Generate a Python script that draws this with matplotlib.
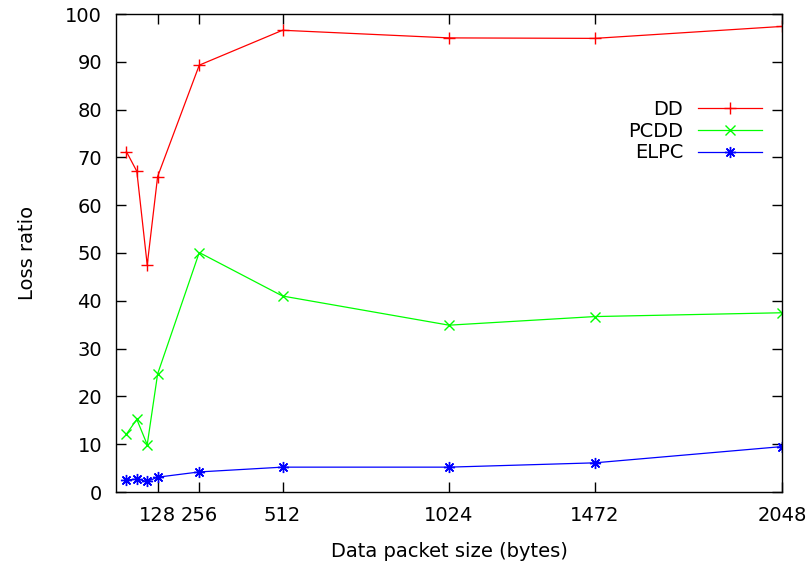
import matplotlib
matplotlib.use("Agg")
import matplotlib.pyplot as plt

plt.rcParams['font.family'] = ['DejaVu Sans']

sizes = [32, 64, 96, 128, 256, 512, 1024, 1472, 2048]
dd = [71.2, 67.1, 47.5, 66.0, 89.3, 96.6, 95.0, 94.9, 97.4]
pcdd = [12.1, 15.2, 9.9, 24.7, 50.1, 41.0, 34.9, 36.7, 37.5]
elpc = [2.5, 2.7, 2.2, 3.1, 4.2, 5.2, 5.2, 6.1, 9.5]
xticks = [128, 256, 512, 1024, 1472, 2048]
yticks = list(range(0, 101, 10))

fig = plt.figure(figsize=(8.11, 5.64), dpi=100)
ax = fig.add_axes([116/811, 1-492/564, 666/811, 478/564])

ax.plot(sizes, dd, color='#ff0000', lw=0.9, marker='+', ms=8, mew=1.0, label='DD')
ax.plot(sizes, pcdd, color='#00ff00', lw=0.9, marker='x', ms=7, mew=1.0, label='PCDD')
ax.plot(sizes, elpc, color='#0000ff', lw=0.9, marker=(8, 2, 0), ms=8, mew=1.0, label='ELPC')

ax.set_xlim(0, 2048)
ax.set_ylim(0, 100)
ax.set_xticks(xticks)
ax.set_xticklabels([str(t) for t in xticks])
ax.set_yticks(yticks)
ax.tick_params(direction='in', length=7, width=1, top=True, right=True,
               labelsize=14, pad=10)
for s in ax.spines.values():
    s.set_linewidth(1)
ax.set_xlabel('Data packet size (bytes)', fontsize=14, labelpad=12)
ax.set_ylabel('Loss ratio', fontsize=14, labelpad=20)

leg = ax.legend(loc='center right', bbox_to_anchor=((762-116)/666, (492-131)/478),
                frameon=False, markerfirst=False, fontsize=14, handlelength=3.3,
                handletextpad=0.75, labelspacing=0.15, borderpad=0, borderaxespad=0)
for t in leg.get_texts():
    t.set_ha('right')

fig.savefig('out.png', dpi=100)
